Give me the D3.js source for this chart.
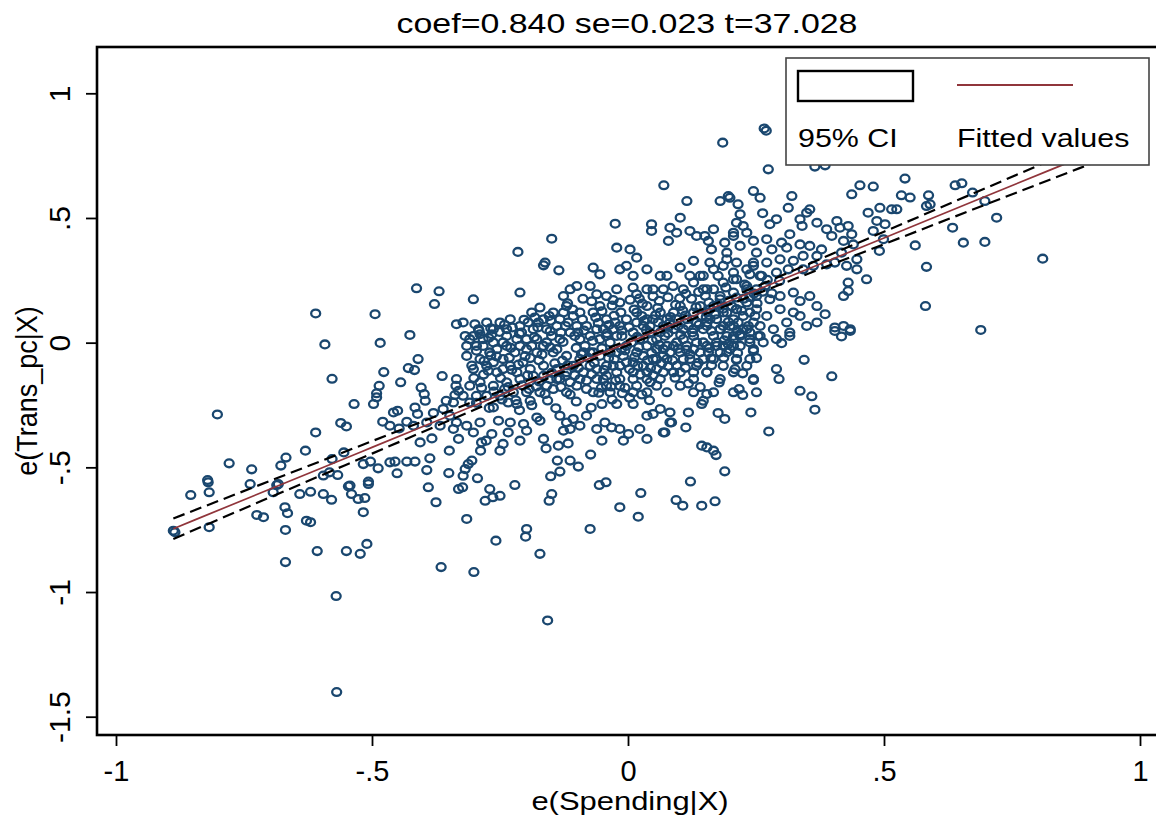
<!DOCTYPE html>
<html>
<head>
<meta charset="UTF-8">
<title>Added-variable plot: e(Trans_pc|X) vs e(Spending|X)</title>
<script src="https://cdn.jsdelivr.net/npm/d3@7/dist/d3.min.js"></script>
<style>
  body { margin: 0; background: white; }
  svg { display: block; font-family: "Liberation Sans", Arial, sans-serif; }
  .tick line { stroke: #000; stroke-width: 1.8px; }
</style>
</head>
<body>
<svg id="chart" width="1156" height="826"></svg>
<script>
// residual pairs [e(Spending|X), e(Trans_pc|X)]
var avPoints = [
  // left tail
  [-0.413,0.218],[-0.369,0.206],[-0.378,0.155],[-0.610,0.117],[-0.494,0.114],[-0.335,0.074],[-0.426,0.031],
  [-0.592,-0.007],[-0.484,-0.001],[-0.410,-0.066],[-0.429,-0.102],[-0.417,-0.110],[-0.477,-0.118],[-0.363,-0.134],
  [-0.578,-0.145],[-0.444,-0.159],[-0.486,-0.173],[-0.404,-0.180],[-0.491,-0.203],[-0.398,-0.206],[-0.336,-0.173],
  [-0.491,-0.219],[-0.497,-0.246],[-0.396,-0.233],[-0.355,-0.233],[-0.338,-0.210],[-0.535,-0.246],[-0.802,-0.288],
  [-0.458,-0.280],[-0.450,-0.273],[-0.416,-0.260],[-0.411,-0.286],[-0.380,-0.282],[-0.479,-0.317],[-0.561,-0.322],
  [-0.550,-0.336],[-0.432,-0.317],[-0.447,-0.344],[-0.610,-0.360],[-0.406,-0.400],[-0.383,-0.384],[-0.349,-0.433],
  [-0.630,-0.433],[-0.779,-0.484],[-0.735,-0.508],[-0.668,-0.461],[-0.678,-0.493],[-0.821,-0.551],[-0.578,-0.467],
  [-0.555,-0.440],[-0.517,-0.487],[-0.503,-0.477],[-0.488,-0.504],[-0.465,-0.480],[-0.455,-0.477],[-0.432,-0.477],
  [-0.416,-0.477],[-0.387,-0.464],[-0.393,-0.511],[-0.451,-0.524],[-0.350,-0.523],[-0.595,-0.533],[-0.583,-0.520],
  [-0.567,-0.531],[-0.507,-0.557],[-0.543,-0.573],[-0.738,-0.567],[-0.683,-0.567],
  [-0.361,-0.266],[-0.348,-0.293],[-0.335,-0.320],[-0.341,-0.346],[-0.331,-0.386],[-0.367,-0.333],[-0.393,-0.320],
  [-0.419,-0.333],[-0.465,-0.333],[-0.341,-0.240],[-0.335,-0.146],[-0.331,-0.193],
  [-0.820,-0.560],[-0.818,-0.600],[-0.854,-0.611],[-0.686,-0.571],[-0.693,-0.600],[-0.888,-0.754],[-0.885,-0.760],
  [-0.818,-0.740],[-0.725,-0.691],[-0.712,-0.700],[-0.670,-0.660],[-0.665,-0.684],[-0.669,-0.751],[-0.641,-0.607],
  [-0.620,-0.598],[-0.595,-0.607],[-0.579,-0.630],[-0.628,-0.714],[-0.620,-0.720],[-0.546,-0.576],[-0.540,-0.607],
  [-0.527,-0.627],[-0.514,-0.623],[-0.517,-0.680],[-0.507,-0.567],[-0.669,-0.880],[-0.607,-0.836],[-0.550,-0.836],
  [-0.523,-0.847],[-0.510,-0.807],[-0.570,-1.016],[-0.569,-1.401],[-0.365,-0.900],[-0.390,-0.580],[-0.375,-0.640],
  [-0.331,-0.587],
  // lower middle
  [-0.315,-0.707],[-0.301,-0.920],[-0.258,-0.794],[-0.198,-0.747],[-0.200,-0.778],[-0.172,-0.847],[-0.157,-1.114],
  [-0.074,-0.747],[-0.016,-0.660],[0.020,-0.698],[0.025,-0.603],[-0.056,-0.571],[-0.043,-0.560],[0.094,-0.631],
  [0.107,-0.654],[0.144,-0.654],[0.170,-0.636],[0.122,-0.557],[0.189,-0.516],[0.144,-0.413],[0.154,-0.420],
  [0.167,-0.433],[0.172,-0.451],[-0.221,-0.571],[-0.294,-0.544],[-0.270,-0.587],[-0.279,-0.634],[-0.264,-0.620],
  [-0.250,-0.614],[-0.323,-0.580],[-0.322,-0.534],[-0.151,-0.536],[-0.133,-0.517],[-0.149,-0.607],[-0.154,-0.634],
  [-0.138,-0.473],[-0.113,-0.473],[-0.097,-0.497],[-0.073,-0.449],[-0.165,-0.386],[-0.160,-0.424],[-0.136,-0.413],
  [-0.117,-0.404],[-0.211,-0.393],[-0.305,-0.473],[-0.312,-0.487],[-0.318,-0.507],[-0.288,-0.433],[-0.277,-0.393],
  [-0.266,-0.366],[-0.250,-0.433],[-0.244,-0.406],[-0.234,-0.360],[-0.051,-0.393],[-0.009,-0.393],[0.037,-0.386],
  [0.069,-0.360],[0.085,-0.320],[0.113,-0.340],[0.118,-0.280],[0.176,-0.282],[0.189,-0.306],[0.240,-0.280],
  [0.144,-0.246],
  [-0.133,-0.293],[-0.120,-0.320],[-0.107,-0.306],[-0.126,-0.353],[-0.113,-0.346],[-0.094,-0.333],[-0.081,-0.293],
  [-0.061,-0.346],[-0.045,-0.320],[-0.032,-0.340],[-0.016,-0.346],[0.001,-0.366],[0.023,-0.346],[0.037,-0.293],
  [0.049,-0.286],[0.063,-0.266],[0.082,-0.280],[0.082,-0.320],[0.072,-0.360],[0.010,-0.246],[-0.022,-0.246],
  [-0.051,-0.246],[-0.230,-0.320],[-0.253,-0.313],[-0.204,-0.326],[-0.198,-0.353],[-0.178,-0.300],[-0.172,-0.313],
  [-0.286,-0.400],[-0.302,-0.360],[-0.315,-0.333],[-0.289,-0.320],[-0.234,-0.240],[-0.217,-0.246],[-0.191,-0.233],
  [-0.309,-0.240],[-0.263,-0.260],
  // right of the core
  [0.689,0.051],[0.300,-0.002],[0.344,-0.069],[0.398,-0.135],[0.336,-0.193],[0.359,-0.215],[0.365,-0.269],
  [0.290,-0.106],[0.295,-0.146],[0.245,-0.033],[0.251,-0.062],[0.245,-0.150],[0.275,-0.356],[0.217,-0.186],
  [0.224,-0.210],[0.178,-0.160],[0.162,-0.063],[0.224,-0.123],[0.209,-0.106],[0.417,0.025],[0.434,0.047],
  [0.404,0.047],[0.212,-0.069],[0.199,-0.026],[0.196,-0.006],[0.154,-0.206],[0.147,-0.233],[0.154,-0.119],
  [0.147,0.001],[0.258,0.027],[0.316,0.041],[0.219,0.034],
  // upper right
  [0.266,0.859],[0.270,0.850],[0.185,0.802],[0.274,0.695],[0.365,0.706],[0.385,0.711],[0.541,0.658],[0.453,0.631],
  [0.479,0.626],[0.437,0.595],[0.534,0.591],[0.551,0.582],[0.587,0.591],[0.583,0.548],[0.590,0.555],[0.639,0.631],
  [0.652,0.639],[0.673,0.602],[0.697,0.568],[0.720,0.501],[0.634,0.461],[0.655,0.401],[0.697,0.404],[0.561,0.390],
  [0.810,0.337],[0.583,0.304],[0.581,0.147],[0.466,0.254],[0.385,0.114],[0.404,0.061],[0.421,0.067],[0.434,0.054],
  [0.525,0.535],[0.515,0.535],[0.492,0.541],[0.469,0.521],[0.502,0.475],[0.486,0.488],[0.479,0.448],[0.499,0.415],
  [0.491,0.368],[0.430,0.241],[0.430,0.207],[0.421,0.187],[0.447,0.334],[0.427,0.308],[0.447,0.294],[0.408,0.488],
  [0.414,0.461],[0.430,0.468],[0.437,0.435],[0.421,0.408],[0.440,0.394],[0.398,0.428],[0.388,0.455],[0.369,0.481],
  [0.349,0.521],[0.355,0.535],[0.336,0.495],[0.340,0.468],[0.313,0.541],[0.320,0.588],[0.263,0.519],[0.245,0.608],
  [0.258,0.581],[0.199,0.581],[0.180,0.568],[0.215,0.555],[0.219,0.515],
  [0.225,0.468],[0.277,0.475],[0.290,0.495],[0.316,0.435],[0.300,0.401],[0.271,0.415],[0.245,0.408],[0.206,0.428],
  [0.189,0.401],[0.167,0.455],[0.150,0.428],[0.163,0.374],[0.193,0.361],[0.219,0.388],[0.251,0.361],[0.281,0.374],
  [0.310,0.381],[0.336,0.394],[0.355,0.388],[0.378,0.374],[0.369,0.348],[0.342,0.348],[0.323,0.328],[0.297,0.334],
  [0.271,0.321],[0.245,0.308],[0.212,0.321],[0.186,0.308],[0.160,0.321],[0.147,0.268],[0.176,0.268],[0.206,0.254],
  [0.238,0.274],[0.261,0.268],[0.290,0.281],[0.313,0.294],[0.342,0.294],[0.362,0.308],[0.388,0.314],[0.404,0.321],
  [0.417,0.361],
  [0.154,0.214],[0.180,0.187],[0.206,0.201],[0.232,0.214],[0.251,0.187],[0.277,0.174],[0.297,0.187],[0.323,0.201],
  [0.336,0.167],[0.355,0.187],[0.369,0.147],[0.323,0.121],[0.297,0.134],[0.271,0.107],[0.238,0.121],[0.212,0.134],
  [0.186,0.121],[0.160,0.134],[0.154,0.067],[0.180,0.054],[0.206,0.067],[0.232,0.054],[0.258,0.067],[0.284,0.054],
  [0.310,0.081],[0.336,0.107],[0.349,0.067],[0.316,0.027],[0.290,0.014],[0.264,0.001],[0.238,0.014],[0.206,0.014],
  [0.173,0.001],[0.369,0.081],
  // upper middle
  [0.070,0.631],[0.115,0.568],[-0.025,0.477],[-0.149,0.417],[-0.215,0.364],[-0.162,0.321],[-0.165,0.310],
  [-0.135,0.290],[-0.302,0.174],[-0.211,0.201],[-0.022,0.381],[0.004,0.374],[0.017,0.341],[0.046,0.475],
  [0.046,0.448],[0.079,0.408],[0.082,0.461],[0.102,0.501],[0.095,0.441],[0.121,0.448],[0.134,0.428],[0.196,0.588],
  [0.212,0.481],[0.157,0.408],[0.206,0.441],[0.232,0.441],
  [-0.068,0.301],[-0.055,0.274],[-0.016,0.294],[-0.003,0.308],[0.010,0.268],[0.037,0.294],[0.063,0.268],
  [0.076,0.268],[0.102,0.301],[0.128,0.328],[0.121,0.268],[0.141,0.268],[0.167,0.294],[0.193,0.334],[0.206,0.281],
  [0.232,0.294],[0.245,0.321],[0.258,0.268],[-0.126,0.187],[-0.113,0.214],[-0.100,0.227],[-0.074,0.227],
  [-0.061,0.194],[-0.042,0.187],[-0.022,0.214],[-0.016,0.161],[0.010,0.221],[0.017,0.194],[0.037,0.214],
  [0.049,0.214],[0.069,0.214],[0.088,0.227],[0.108,0.214],[0.128,0.241],[0.147,0.214],[0.167,0.214],[0.186,0.241],
  [0.212,0.254],[0.232,0.227],[0.251,0.214],
  // dense core
  [-0.322,0.081],[-0.299,0.074],[-0.276,0.081],[-0.289,0.034],[-0.266,0.034],[-0.244,0.001],[-0.250,0.081],
  [-0.230,0.094],[-0.211,0.067],[-0.188,0.121],[-0.172,0.141],[-0.185,0.054],[-0.198,0.014],[-0.221,-0.039],
  [-0.244,-0.066],[-0.270,-0.039],[-0.296,-0.013],[-0.315,-0.053],[-0.302,-0.106],[-0.276,-0.093],[-0.256,-0.119],
  [-0.230,-0.093],[-0.205,-0.079],[-0.178,-0.039],[-0.159,0.001],[-0.165,0.094],[-0.139,0.067],[-0.126,0.121],
  [-0.107,0.107],[-0.113,0.041],[-0.133,0.014],[-0.146,-0.039],[-0.165,-0.093],[-0.185,-0.133],[-0.211,-0.146],
  [-0.237,-0.159],[-0.263,-0.173],[-0.289,-0.159],[-0.309,-0.173],[-0.322,-0.213],[-0.159,-0.173],[-0.133,-0.146],
  [-0.107,-0.093],[-0.087,-0.039],[-0.094,0.014],[-0.081,0.067],[-0.068,0.121],[-0.055,0.147],[-0.042,0.094],
  [-0.029,0.054],[-0.055,0.014],[-0.068,-0.039],[-0.074,-0.093],[-0.094,-0.146],[-0.120,-0.199],[-0.048,-0.146],
  [-0.029,-0.093],[-0.022,-0.039],[-0.003,-0.013],[-0.003,0.094],[0.017,0.121],[0.037,0.147],[0.030,0.067],
  [0.049,0.094],[0.063,0.041],[0.076,0.094],[0.089,0.121],[0.102,0.147],[0.115,0.094],[0.128,0.121],[0.141,0.147],
  [0.154,0.121],[0.167,0.147],[0.180,0.174],[0.193,0.121],[0.212,0.134],[0.232,0.161],[0.251,0.134],[0.245,0.081],
  [0.225,0.054],[0.206,0.027],[0.186,-0.013],[0.167,0.027],[0.147,0.054],[0.128,0.027],[0.108,0.014],[0.089,-0.013],
  [0.069,-0.026],[0.049,-0.066],[0.030,-0.093],[0.010,-0.119],[-0.016,-0.146],[-0.035,-0.199],[0.010,-0.199],
  [0.043,-0.159],[0.069,-0.119],[0.095,-0.093],[0.121,-0.066],[0.141,-0.039],[0.167,-0.066],[0.193,-0.039],
  [0.219,-0.013],[0.245,-0.026],[0.232,-0.093],[0.206,-0.119],[0.180,-0.146],[0.154,-0.119],[0.128,-0.146],
  [0.102,-0.173],[0.076,-0.199],[0.128,-0.199],[0.167,-0.199],[0.206,-0.199],[0.245,-0.146],[0.251,-0.199],
  [0.056,0.014],[0.089,0.054],[0.023,0.014],[-0.022,0.027],
  [-0.309,0.014],[-0.283,-0.013],[-0.256,-0.026],[-0.237,0.027],[-0.217,0.014],[-0.198,-0.026],[-0.178,0.014],
  [-0.159,0.054],[-0.146,0.121],[-0.120,0.147],[-0.094,0.121],[-0.100,0.067],[-0.074,0.027],[-0.048,0.054],
  [-0.035,0.001],[-0.016,0.067],[0.010,0.041],[0.037,0.094],[0.043,0.041],[0.063,0.121],[0.069,0.067],[0.095,0.094],
  [0.108,0.054],[0.134,0.081],[0.154,0.081],[0.173,0.094],[0.186,0.067],[0.206,0.094],[0.225,0.107],[0.238,0.041],
  [0.219,0.027],[0.193,0.027],[0.173,-0.013],[0.154,-0.013],[0.128,-0.026],[0.102,-0.039],[0.076,-0.066],
  [0.056,-0.106],[0.037,-0.146],[0.017,-0.173],[-0.003,-0.079],[-0.022,-0.119],[-0.042,-0.093],[-0.061,-0.146],
  [-0.081,-0.186],[-0.100,-0.173],[-0.120,-0.119],[-0.139,-0.106],[-0.152,-0.146],[-0.172,-0.199],[-0.198,-0.199],
  [-0.224,-0.199],[-0.250,-0.213],[-0.276,-0.213],[-0.296,-0.213],
  [-0.318,0.027],[-0.292,0.054],[-0.263,0.054],[-0.237,0.054],[-0.208,0.041],[-0.195,0.081],[-0.175,0.081],
  [-0.149,0.027],[-0.133,0.094],[-0.117,0.081],[-0.104,0.027],[-0.084,-0.013],[-0.061,0.054],[-0.042,0.027],
  [-0.025,0.081],[-0.012,0.027],[0.007,0.001],[0.017,0.081],[0.027,0.107],[0.043,0.067],[0.059,0.081],[0.072,0.027],
  [0.082,0.081],[0.098,0.067],[0.118,0.067],[0.128,0.054],[0.144,0.107],[0.160,0.094],[0.180,0.054],[0.199,0.067],
  [0.215,0.081],[0.235,0.067],[0.248,0.107],[0.254,0.027],[0.238,0.001],[0.206,-0.013],[0.180,-0.039],
  [0.157,-0.039],[0.134,0.001],[0.115,-0.013],[0.095,0.001],[0.076,-0.013],[0.056,-0.026],[0.037,-0.013],
  [0.017,-0.039],[-0.009,-0.053],[-0.035,-0.039],[-0.055,-0.053],[-0.074,-0.039],[-0.094,-0.066],[-0.120,-0.053],
  [-0.139,-0.026],[-0.165,-0.013],[-0.188,-0.013],[-0.211,-0.013],[-0.237,-0.013],[-0.263,0.001],[-0.283,0.014],
  [-0.302,0.027],[-0.315,-0.013],[-0.289,-0.066],[-0.263,-0.079],[-0.244,-0.106],[-0.217,-0.119],[-0.191,-0.106],
  [-0.165,-0.133],[-0.139,-0.146],[-0.113,-0.159],[-0.087,-0.119],[-0.061,-0.106],[-0.042,-0.133],[-0.016,-0.093],
  [0.010,-0.079],[0.030,-0.053],[0.056,-0.066],[0.082,-0.039],[0.108,-0.066],[0.134,-0.093],[0.147,-0.066],
  [0.186,-0.093],[0.212,-0.066],[0.238,-0.066],[0.089,-0.119],[0.063,-0.146],[0.037,-0.119],[0.010,-0.146],
  [-0.016,-0.173],[-0.042,-0.173],[-0.068,-0.199],[0.102,-0.119],[0.128,-0.119],[0.037,-0.199],[0.056,-0.173],
  // filling of the solid blob around the fitted line
  [-0.118,0.158],[-0.071,0.166],[-0.031,0.149],[0.004,0.172],[0.028,0.157],[0.061,0.168],[0.093,0.152],
  [0.124,0.176],[0.158,0.161],[0.197,0.168],[0.238,0.183],
  [-0.182,0.101],[-0.151,0.088],[-0.122,0.067],[-0.089,0.093],[-0.058,0.079],[-0.027,0.108],[0.002,0.062],
  [0.031,0.087],[0.054,0.110],[0.079,0.063],[0.112,0.109],[0.139,0.072],[0.171,0.113],[0.196,0.083],[0.222,0.128],
  [-0.268,0.058],[-0.241,0.072],[-0.212,0.036],[-0.183,0.022],[-0.152,0.046],[-0.127,0.003],[-0.098,0.041],
  [-0.069,0.007],[-0.041,0.038],[-0.012,0.049],[0.018,0.023],[0.047,0.009],[0.078,0.038],[0.103,0.031],
  [0.126,0.041],[0.163,0.047],[0.188,0.009],[0.213,0.046],
  [-0.296,-0.032],[-0.268,-0.051],[-0.229,-0.021],[-0.201,-0.054],[-0.174,-0.071],[-0.152,-0.019],[-0.128,-0.072],
  [-0.101,-0.021],[-0.078,-0.061],[-0.051,-0.022],[-0.027,-0.067],[-0.006,-0.031],[0.021,-0.018],[0.046,-0.041],
  [0.069,-0.052],[0.098,-0.024],[0.121,-0.047],[0.159,-0.022],
  [-0.282,-0.128],[-0.249,-0.142],[-0.227,-0.109],[-0.196,-0.131],[-0.173,-0.156],[-0.149,-0.121],[-0.122,-0.133],
  [-0.097,-0.101],[-0.071,-0.127],[-0.047,-0.109],[-0.024,-0.152],[0.003,-0.106],[0.024,-0.128],[0.049,-0.131],
  [0.079,-0.094],[0.112,-0.101],
  [-0.296,-0.241],[-0.271,-0.262],[-0.246,-0.228],[-0.212,-0.271],[-0.188,-0.251],[-0.157,-0.232],[-0.141,-0.263],
  [-0.101,-0.236],[-0.072,-0.261],[-0.031,-0.228],[0.003,-0.221],[0.042,-0.231],
  [-0.286,-0.181],[-0.262,-0.196],[-0.234,-0.178],[-0.207,-0.171],[-0.179,-0.176],[-0.146,-0.186],[-0.113,-0.208],
  [-0.052,-0.181],[-0.006,-0.181],[0.027,-0.208],
  [0.186,0.136],[0.212,0.181],[0.246,0.197],[0.268,0.228],[0.281,0.198],[0.296,0.248],[0.272,0.252],[0.228,0.233],
  [0.191,0.221],[0.151,0.188],[0.113,0.196],[0.078,0.182],
  [-0.305,-0.092],[-0.281,-0.074],[-0.257,-0.055],[-0.232,-0.061],[-0.214,-0.088],[-0.191,-0.062],[-0.168,-0.047],
  [-0.143,-0.083],[-0.118,-0.091],[-0.091,-0.046],[-0.066,-0.081],[-0.038,-0.062],[-0.013,-0.024],[0.013,-0.058],
  [0.038,-0.071],[0.061,-0.009],[0.087,-0.071],[0.114,-0.029],[0.137,-0.081],[0.163,-0.091],[0.187,-0.061],
  [0.214,-0.041],
  [-0.291,0.048],[-0.272,0.019],[-0.251,0.043],[-0.226,0.061],[-0.203,0.092],[-0.176,0.061],[-0.154,0.107],
  [-0.131,0.041],[-0.108,0.133],[-0.086,0.049],[-0.063,0.101],[-0.037,0.071],[-0.014,0.121],[0.012,0.133],
  [0.036,0.051],[0.058,0.139],[0.083,0.103],[0.107,0.128],[0.133,0.142],[0.153,0.103],[0.176,0.152],[0.203,0.146],
  [0.226,0.176],[0.252,0.158],[0.263,0.204],
  [-0.301,-0.142],[-0.273,-0.113],[-0.241,-0.186],[-0.219,-0.231],[-0.193,-0.186],[-0.162,-0.206],[-0.131,-0.178],
  [-0.104,-0.131],[-0.081,-0.152],[-0.057,-0.201],[-0.033,-0.176],[-0.011,-0.203],[0.019,-0.093],[0.044,-0.101],
  [0.066,-0.083],[0.092,-0.141],[0.118,-0.164],[0.141,-0.178],
  [-0.029,0.171],[-0.051,0.126],[-0.088,0.176],[0.022,0.177],[0.049,0.186],[0.101,0.178],[0.138,0.203]
];

// fitted values and 95% CI bounds
var fitX   = [-0.888, -0.7, -0.5, -0.3, -0.15, 0, 0.15, 0.3, 0.5, 0.7, 0.95];
var fitY   = [-0.746, -0.588, -0.420, -0.252, -0.126, 0, 0.126, 0.252, 0.420, 0.588, 0.798];
var ciLow  = [-0.787, -0.621, -0.445, -0.269, -0.138, -0.010, 0.114, 0.235, 0.395, 0.555, 0.754];
var ciHigh = [-0.705, -0.555, -0.395, -0.235, -0.114, 0.010, 0.138, 0.269, 0.445, 0.621, 0.842];

var xTicks = [-1, -0.5, 0, 0.5, 1];
var xTickLabels = ["-1", "-.5", "0", ".5", "1"];
var yTicks = [1, 0.5, 0, -0.5, -1, -1.5];
var yTickLabels = ["1", ".5", "0", "-.5", "-1", "-1.5"];
var legendLabels = ["95% CI", "Fitted values"];
var titleText = "coef=0.840 se=0.023 t=37.028";

var navy = "#1a476f", maroon = "#90353b";

var svg = d3.select("#chart");

var x = d3.scaleLinear().domain([-1, 1]).range([116, 1140]);
var y = d3.scaleLinear().domain([-1.5, 1]).range([716.7, 93.3]);

// markers (hollow circles, a little wider than tall like the picture)
svg.append("g").selectAll("ellipse")
  .data(avPoints)
  .join("ellipse")
  .attr("cx", function(d){ return x(d[0]); })
  .attr("cy", function(d){ return y(d[1]); })
  .attr("rx", 4.5).attr("ry", 3.9)
  .attr("fill", "none")
  .attr("stroke", navy)
  .attr("stroke-width", 2.3);

// CI bounds + fit line
var idx = d3.range(fitX.length);
function lineOf(arr) {
  return d3.line().x(function(i){ return x(fitX[i]); }).y(function(i){ return y(arr[i]); })
    .curve(d3.curveMonotoneX)(idx);
}
[ciLow, ciHigh].forEach(function(arr){
  svg.append("path").attr("d", lineOf(arr))
    .attr("fill", "none").attr("stroke", "#000")
    .attr("stroke-width", 2.2).attr("stroke-dasharray", "12,6");
});
svg.append("path").attr("d", lineOf(fitY))
  .attr("fill", "none").attr("stroke", maroon).attr("stroke-width", 1.7);

// frame (right edge runs off the picture)
svg.append("rect").attr("x", 97).attr("y", 47).attr("width", 1120).attr("height", 688)
  .attr("fill", "none").attr("stroke", "#000").attr("stroke-width", 2.6);

// axes
var xAxis = svg.append("g").attr("transform", "translate(0,735)")
  .call(d3.axisBottom(x).tickValues(xTicks).tickSize(11).tickPadding(0)
    .tickFormat(function(d, i){ return xTickLabels[i]; }));
xAxis.select(".domain").remove();
xAxis.selectAll("text")
  .attr("y", 46).attr("dy", null)
  .attr("font-size", 29).attr("fill", "#000")
  .attr("font-family", "'Liberation Sans', Arial, sans-serif");

var yAxis = svg.append("g").attr("transform", "translate(97,0)")
  .call(d3.axisLeft(y).tickValues(yTicks).tickSize(11).tickPadding(0)
    .tickFormat(function(d, i){ return yTickLabels[i]; }));
yAxis.select(".domain").remove();
yAxis.selectAll("text")
  .attr("x", 0).attr("dy", null).attr("y", -27)
  .attr("transform", "rotate(-90)")
  .attr("text-anchor", "middle")
  .attr("font-size", 30).attr("fill", "#000")
  .attr("font-family", "'Liberation Sans', Arial, sans-serif");

// titles
function stretchedText(tx, ty, sx, size, str, rot) {
  return svg.append("text")
    .attr("transform", "translate(" + tx + "," + ty + ") scale(" + sx + ",1)" + (rot ? " rotate(-90)" : ""))
    .attr("text-anchor", "middle").attr("font-size", size).attr("fill", "#000")
    .text(str);
}
stretchedText(627, 33, 1.19, 28.5, titleText);
stretchedText(630, 810, 1.19, 26, "e(Spending|X)");
stretchedText(37, 391, 1.1, 27, "e(Trans_pc|X)", true);

// legend
var lg = svg.append("g");
lg.append("rect").attr("x", 786).attr("y", 58).attr("width", 363).attr("height", 107)
  .attr("fill", "white").attr("stroke", "#444").attr("stroke-width", 1.6);
lg.append("rect").attr("x", 798).attr("y", 71).attr("width", 115).attr("height", 30)
  .attr("fill", "white").attr("stroke", "#000").attr("stroke-width", 2.4);
lg.append("line").attr("x1", 957).attr("x2", 1073).attr("y1", 85).attr("y2", 85)
  .attr("stroke", maroon).attr("stroke-width", 1.8);
lg.selectAll("text.lab").data(legendLabels).join("text")
  .attr("class", "lab")
  .attr("transform", function(d, i){ return "translate(" + (i === 0 ? 798 : 957) + ",147) scale(1.17,1)"; })
  .attr("font-size", 26).attr("fill", "#000")
  .text(function(d){ return d; });
</script>
</body>
</html>
